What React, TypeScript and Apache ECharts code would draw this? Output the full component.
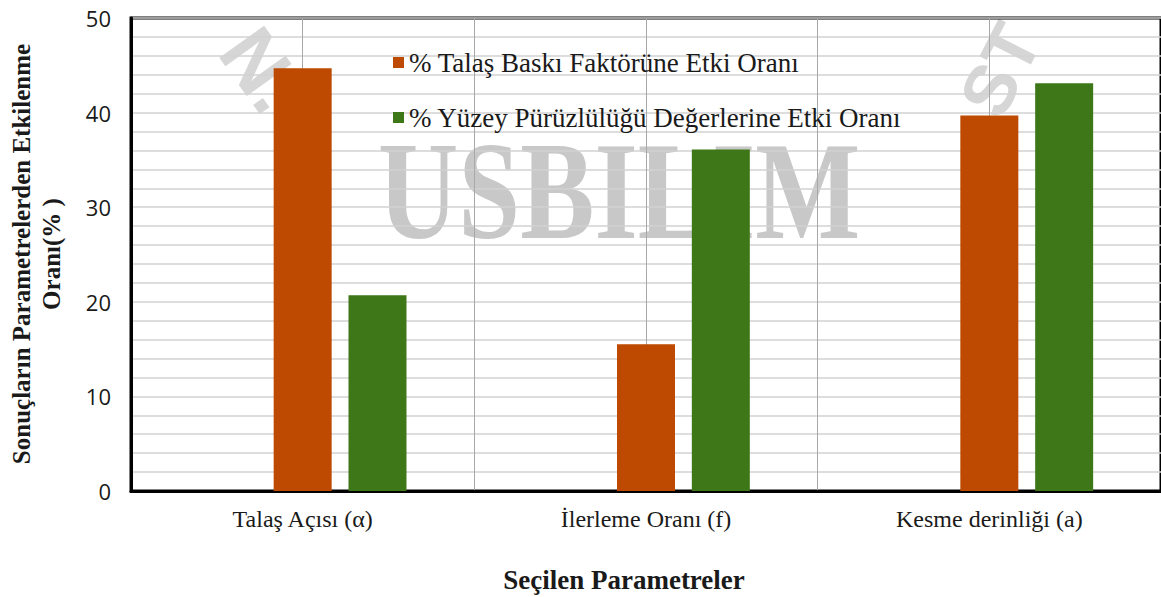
import React, { useEffect, useRef } from "react";
import * as echarts from "echarts";

const categories = ["Talaş Açısı (α)", "İlerleme Oranı (f)", "Kesme derinliği (a)"];
const seriesNames = ["% Talaş Baskı Faktörüne Etki Oranı", "% Yüzey Pürüzlülüğü Değerlerine Etki Oranı"];
const talasBaski = [44.7, 15.5, 39.7];
const yuzeyPuruz = [20.7, 36.1, 43.1];
const emptySeries = [null, null, null];
const yTitle = "Sonuçların Parametrelerden Etkilenme\nOranı(% )";
const xTitle = "Seçilen Parametreler";

const SERIF = "'Liberation Serif', 'DejaVu Serif', serif";

export default function App() {
  const ref = useRef<HTMLDivElement>(null);
  useEffect(() => {
    if (!ref.current) return;
    const chart = echarts.init(ref.current, null, { renderer: "svg" });
    chart.setOption({
      animation: false,
      backgroundColor: "#ffffff",
      grid: { left: 131, top: 18, right: -2, bottom: 106, show: true, borderColor: "#000", borderWidth: 3, backgroundColor: "transparent" },
      legend: {
        data: seriesNames,
        orient: "vertical",
        left: 388,
        top: 44,
        icon: "rect",
        itemWidth: 11,
        itemHeight: 11,
        itemGap: 28,
        textStyle: { fontFamily: SERIF, fontSize: 27, color: "#1a1a1a" },
      },
      graphic: [
        {
          type: "text",
          z: -10,
          x: 378,
          y: 190,
          scaleX: 0.795,
          style: {
            text: "USBILIM",
            fontFamily: SERIF,
            fontWeight: "bold",
            fontSize: 140,
            fill: "#c8c8c8",
            textVerticalAlign: "middle",
          },
        },
        {
          type: "text",
          z: -10,
          x: 262,
          y: 70,
          rotation: -0.95,
          style: { text: "N.", fontFamily: "'Liberation Sans', sans-serif", fontWeight: "bold", fontSize: 80, fill: "#d6d6d6", textAlign: "center", textVerticalAlign: "middle" },
        },
        {
          type: "text",
          z: -10,
          x: 1000,
          y: 70,
          rotation: 1.1,
          style: { text: "ST", fontFamily: "'Liberation Sans', sans-serif", fontWeight: "bold", fontSize: 72, fill: "#d6d6d6", textAlign: "center", textVerticalAlign: "middle" },
        },
        {
          type: "text",
          x: 36,
          y: 254,
          rotation: Math.PI / 2,
          style: {
            text: yTitle,
            fontFamily: SERIF,
            fontWeight: "bold",
            fontSize: 25,
            lineHeight: 30,
            fill: "#1a1a1a",
            textAlign: "center",
            textVerticalAlign: "middle",
          },
        },
        {
          type: "text",
          x: 624,
          y: 580,
          style: {
            text: xTitle,
            fontFamily: SERIF,
            fontWeight: "bold",
            fontSize: 27,
            fill: "#1a1a1a",
            textAlign: "center",
            textVerticalAlign: "middle",
          },
        },
      ],
      xAxis: [
        {
          type: "category",
          data: categories,
          axisLine: { lineStyle: { color: "#000", width: 3 } },
          axisTick: { show: false },
          axisLabel: { fontFamily: SERIF, fontSize: 24, color: "#1a1a1a", margin: 16 },
          splitLine: { show: false },
        },
        {
          type: "value",
          min: 0,
          max: 6,
          interval: 1,
          position: "bottom",
          axisLine: { show: false },
          axisTick: { show: false },
          axisLabel: { show: false },
          splitLine: { show: true, lineStyle: { color: "#a8a8a8", width: 1 } },
        },
      ],
      yAxis: {
        type: "value",
        min: 0,
        max: 50,
        interval: 10,
        axisLine: { show: true, lineStyle: { color: "#000", width: 3 } },
        axisTick: { show: false },
        axisLabel: { fontFamily: "'Open Sans', sans-serif", fontSize: 22, color: "#1a1a1a", margin: 20 },
        splitLine: { show: true, lineStyle: { color: "#d2d2d2", width: 1.5 } },
        minorTick: { show: false, splitNumber: 5 },
        minorSplitLine: { show: true, lineStyle: { color: "#d2d2d2", width: 1.5 } },
      },
      series: [
        { name: "", type: "bar", data: emptySeries, barWidth: 58, barGap: "29%", xAxisIndex: 0 },
        { name: seriesNames[0], type: "bar", data: talasBaski, barWidth: 58, barGap: "29%", xAxisIndex: 0, itemStyle: { color: "#BD4A00" } },
        { name: seriesNames[1], type: "bar", data: yuzeyPuruz, barWidth: 58, barGap: "29%", xAxisIndex: 0, itemStyle: { color: "#3E7718" } },
      ],
    });
    return () => chart.dispose();
  }, []);
  return <div ref={ref} style={{ position: "absolute", left: 0, top: 0, width: 1161, height: 597 }} />;
}
